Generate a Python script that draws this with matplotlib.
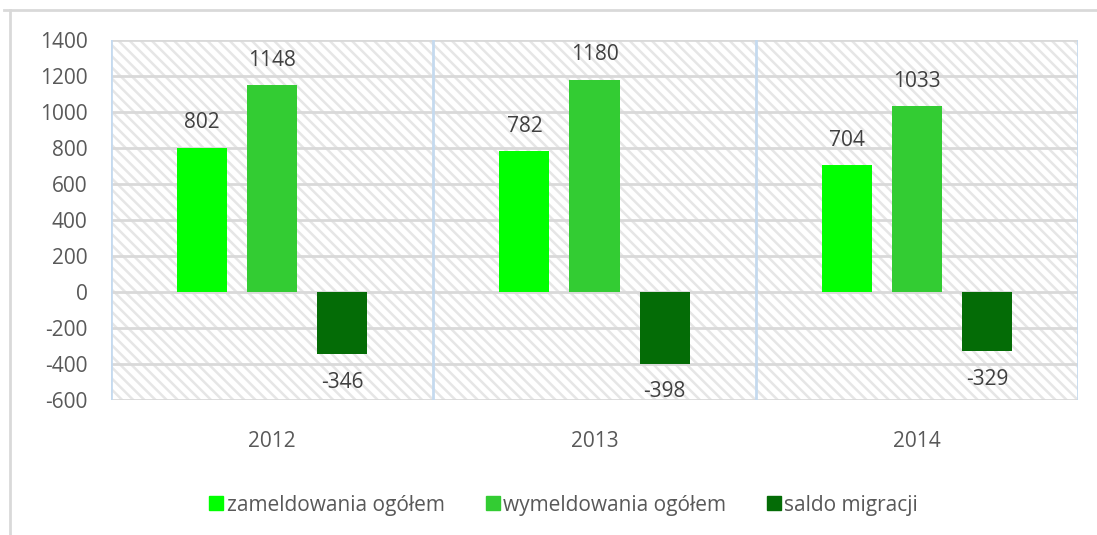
import matplotlib
matplotlib.use("Agg")
import matplotlib.pyplot as plt
from matplotlib.patches import Rectangle
from matplotlib.lines import Line2D
import numpy as np

years = ["2012", "2013", "2014"]
series_names = ["zameldowania ogółem", "wymeldowania ogółem", "saldo migracji"]
zameldowania = [802, 782, 704]
wymeldowania = [1148, 1180, 1033]
saldo = [-346, -398, -329]
colors = ["#00FF00", "#33CC33", "#046C06"]
yticks = [1400, 1200, 1000, 800, 600, 400, 200, 0, -200, -400, -600]

plt.rcParams['font.family'] = ['Open Sans', 'DejaVu Sans']
plt.rcParams['hatch.linewidth'] = 1.8

fig = plt.figure(figsize=(10.97, 5.35), dpi=100)
W, H = 1097, 535
ax = fig.add_axes([111 / W, 1 - 400 / H, (1078 - 111) / W, 360 / H])

# hatched background
bg = Rectangle((0, 0), 1, 1, transform=ax.transAxes, facecolor="white",
               edgecolor="#E6E6E6", hatch="\\\\\\", lw=0, zorder=0)
ax.add_patch(bg)

x = np.arange(len(years))
off = 70 / 322
bw = 50 / 322
data = [zameldowania, wymeldowania, saldo]
for i, (vals, c) in enumerate(zip(data, colors)):
    xs = x + (i - 1) * off
    ax.bar(xs, vals, width=bw, color=c, zorder=3, label=series_names[i])
    for xx, v in zip(xs, vals):
        dy = 25 if v >= 0 else -28
        ax.annotate(str(v), (xx, v), xytext=(0, dy), textcoords="offset pixels",
                    ha="center", va="center", fontsize=15, color="#404040", zorder=4)

ax.set_xlim(-0.5, 2.5)
ax.set_ylim(-600, 1400)
ax.set_yticks(yticks)
ax.set_yticklabels([str(t) for t in yticks])
ax.set_xticks(x)
ax.set_xticklabels(years)
ax.tick_params(axis="y", length=0, pad=17, labelsize=15, labelcolor="#595959")
ax.tick_params(axis="x", length=0, pad=22, labelsize=15, labelcolor="#595959")

for t in yticks:
    ax.axhline(t, color="#D9D9D9", lw=2, zorder=1)
for b in [-0.5, 0.5, 1.5, 2.5]:
    ax.axvline(b, color="#C5DAEF", lw=2, zorder=2)

for s in ax.spines.values():
    s.set_visible(False)

# legend
handles = [Line2D([0], [0], marker="s", linestyle="none", markersize=10,
                  markerfacecolor=c, markeredgecolor=c) for c in colors]
fig.legend(handles, series_names, loc="center", bbox_to_anchor=(563 / W, 1 - 505 / H),
           ncol=3, frameon=False, fontsize=15, labelcolor="#595959",
           handletextpad=0.1, columnspacing=1.9, handlelength=0.8)

# chart border
fig.add_artist(Line2D([4 / W, 1.0], [1 - 10 / H, 1 - 10 / H], color="#D9D9D9", lw=2))
fig.add_artist(Line2D([10 / W, 10 / W], [1 - 10 / H, 0], color="#D9D9D9", lw=2))

fig.savefig("out.png", dpi=100)
